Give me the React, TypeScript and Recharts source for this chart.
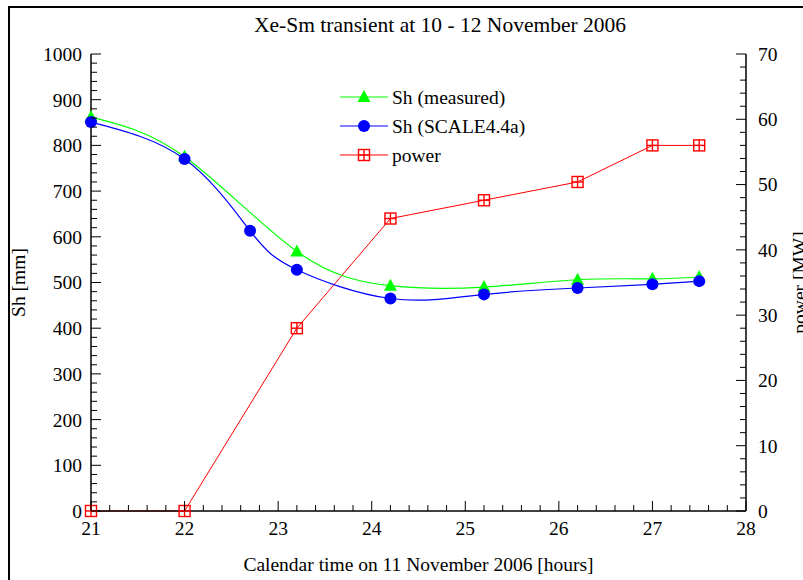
import React from 'react';
import { Line, LineChart, XAxis, YAxis } from 'recharts';

const HOURS = [21, 22, 22.7, 23.2, 24.2, 25.2, 26.2, 27, 27.5];
const SH_MEASURED = [862, 775, null, 568, 493, 490, 506, 508, 512];
const SH_SCALE = [851, 770, 613, 528, 465, 474, 488, 496, 503];
const POWER_MW = [0, 0, null, 28, 44.8, 47.6, 50.4, 56, 56];

const FONT = '"Liberation Serif", "Times New Roman", serif';

const steps = (from: number, to: number, step: number) => {
  const out: number[] = [];
  for (let v = from; v <= to + 1e-9; v += step) out.push(Math.round(v * 1000) / 1000);
  return out;
};
// every tick mark; the labelled ones are the multiples of the major step
const X_TICKS = steps(21, 28, 0.2);
const SH_TICKS = steps(0, 1000, 20);
const POWER_TICKS = steps(0, 70, 2);

const data = HOURS.map((h, i) => ({
  h,
  measured: SH_MEASURED[i],
  scale: SH_SCALE[i],
  power: POWER_MW[i],
}));

const GREEN = '#00ff00';
const BLUE = '#0000ff';
const RED = '#ff0000';

const TriangleMark = ({ cx, cy }: { cx: number; cy: number }) => (
  <polygon points={`${cx},${cy - 7} ${cx - 6.5},${cy + 5} ${cx + 6.5},${cy + 5}`} fill={GREEN} />
);
const CircleMark = ({ cx, cy }: { cx: number; cy: number }) => <circle cx={cx} cy={cy} r={6} fill={BLUE} />;
const SquareMark = ({ cx, cy }: { cx: number; cy: number }) => (
  <g stroke={RED} strokeWidth={1.4} fill="none">
    <rect x={cx - 5.5} y={cy - 5.5} width={11} height={11} />
    <line x1={cx - 5.5} y1={cy} x2={cx + 5.5} y2={cy} />
    <line x1={cx} y1={cy - 5.5} x2={cx} y2={cy + 5.5} />
  </g>
);

const dotWith = (Mark: React.FC<{ cx: number; cy: number }>) => (p: any) => {
  if (p.cx == null || p.cy == null || p.value == null) return <g key={p.index} />;
  return (
    <g key={p.index}>
      <Mark cx={p.cx} cy={p.cy} />
    </g>
  );
};

const isMajor = (v: number, step: number) => Math.abs(v / step - Math.round(v / step)) < 1e-6;
const MAJ = 10;
const MIN = 6;
const FS = 19.5;

const BottomTick = (p: any) => {
  const v = p.payload.value;
  const major = isMajor(v, 1);
  return (
    <g>
      <line x1={p.x} y1={p.y} x2={p.x} y2={p.y - (major ? MAJ : MIN)} stroke="#000" />
      {major && (
        <text x={p.x} y={p.y + 10} dy="0.71em" textAnchor="middle" fontFamily={FONT} fontSize={FS} fill="#000">
          {v}
        </text>
      )}
    </g>
  );
};
const TopTick = (p: any) => {
  const major = isMajor(p.payload.value, 1);
  return <line x1={p.x} y1={p.y} x2={p.x} y2={p.y + (major ? MAJ : MIN)} stroke="#000" />;
};
const LeftTick = (p: any) => {
  const v = p.payload.value;
  const major = isMajor(v, 100);
  return (
    <g>
      <line x1={p.x} y1={p.y} x2={p.x + (major ? MAJ : MIN)} y2={p.y} stroke="#000" />
      {major && (
        <text x={p.x - 9} y={p.y} dy="0.355em" textAnchor="end" fontFamily={FONT} fontSize={FS} fill="#000">
          {v}
        </text>
      )}
    </g>
  );
};
const RightTick = (p: any) => {
  const v = p.payload.value;
  const major = isMajor(v, 10);
  return (
    <g>
      <line x1={p.x} y1={p.y} x2={p.x - (major ? MAJ : MIN)} y2={p.y} stroke="#000" />
      {major && (
        <text x={p.x + 12} y={p.y} dy="0.355em" textAnchor="start" fontFamily={FONT} fontSize={FS} fill="#000">
          {v}
        </text>
      )}
    </g>
  );
};

const LEGEND = [
  { name: 'Sh (measured)', color: GREEN, Mark: TriangleMark },
  { name: 'Sh (SCALE4.4a)', color: BLUE, Mark: CircleMark },
  { name: 'power', color: RED, Mark: SquareMark },
];

const Legend = () => (
  <svg width={200} height={90} style={{ position: 'absolute', left: 335, top: 82 }}>
    {LEGEND.map((l, i) => {
      const y = 15 + i * 29;
      return (
        <g key={l.name}>
          <line x1={5} y1={y} x2={53} y2={y} stroke={l.color} strokeWidth={1} />
          <l.Mark cx={29} cy={y} />
          <text x={57} y={y + 6.5} fontFamily={FONT} fontSize={FS} fill="#000">
            {l.name}
          </text>
        </g>
      );
    })}
  </svg>
);

const labelStyle = { fontFamily: FONT, fontSize: FS, fill: '#000' };
const axisLine = { stroke: '#000', strokeWidth: 1.5 };

export default function App() {
  return (
    <div
      style={{
        position: 'fixed',
        left: 0,
        top: 0,
        width: 803,
        height: 580,
        overflow: 'hidden',
        background: '#fff',
      }}
    >
      <div
        style={{
          position: 'absolute',
          left: 8,
          top: 6,
          width: 862,
          height: 640,
          border: '2px solid #000',
        }}
      />
      <div
        style={{
          position: 'absolute',
          left: 0,
          width: 880,
          top: 12,
          textAlign: 'center',
          fontFamily: FONT,
          fontSize: 21.5,
          lineHeight: '26px',
        }}
      >
        Xe-Sm transient at 10 - 12 November 2006
      </div>
      <div style={{ position: 'absolute', left: 0, top: 0 }}>
        <LineChart width={880} height={580} data={data} margin={{ top: 54, right: 74, bottom: 9, left: 10 }}>
          <XAxis
            xAxisId="x"
            dataKey="h"
            type="number"
            domain={[21, 28]}
            ticks={X_TICKS}
            interval={0}
            tick={BottomTick}
            tickLine={false}
            tickSize={0}
            tickMargin={0}
            axisLine={axisLine}
            height={60}
            label={{
              value: 'Calendar time on 11 November 2006 [hours]',
              position: 'insideBottom',
              offset: 0,
              style: labelStyle,
            }}
          />
          <XAxis
            xAxisId="top"
            orientation="top"
            dataKey="h"
            type="number"
            domain={[21, 28]}
            ticks={X_TICKS}
            interval={0}
            tick={TopTick}
            tickLine={false}
            tickSize={0}
            tickMargin={0}
            axisLine={axisLine}
            height={0}
          />
          <YAxis
            yAxisId="sh"
            type="number"
            domain={[0, 1000]}
            ticks={SH_TICKS}
            interval={0}
            tick={LeftTick}
            tickLine={false}
            tickSize={0}
            tickMargin={0}
            axisLine={axisLine}
            width={81}
            label={{
              value: 'Sh [mm]',
              angle: -90,
              position: 'insideLeft',
              offset: 8,
              style: { ...labelStyle, textAnchor: 'middle' },
            }}
          />
          <YAxis
            yAxisId="mw"
            orientation="right"
            type="number"
            domain={[0, 70]}
            ticks={POWER_TICKS}
            interval={0}
            tick={RightTick}
            tickLine={false}
            tickSize={0}
            tickMargin={0}
            axisLine={axisLine}
            width={60}
            label={{
              value: 'power [MW]',
              angle: -90,
              position: 'insideRight',
              offset: 7,
              style: { ...labelStyle, textAnchor: 'middle' },
            }}
          />

          <Line
            xAxisId="top"
            yAxisId="mw"
            dataKey="power"
            type="linear"
            stroke={RED}
            strokeWidth={1}
            connectNulls
            dot={dotWith(SquareMark)}
            activeDot={false}
            isAnimationActive={false}
          />
          <Line
            xAxisId="x"
            yAxisId="sh"
            dataKey="measured"
            type="natural"
            stroke={GREEN}
            strokeWidth={1.2}
            connectNulls
            dot={dotWith(TriangleMark)}
            activeDot={false}
            isAnimationActive={false}
          />
          <Line
            xAxisId="x"
            yAxisId="sh"
            dataKey="scale"
            type="natural"
            stroke={BLUE}
            strokeWidth={1.2}
            dot={dotWith(CircleMark)}
            activeDot={false}
            isAnimationActive={false}
          />
        </LineChart>
      </div>
      <Legend />
    </div>
  );
}
